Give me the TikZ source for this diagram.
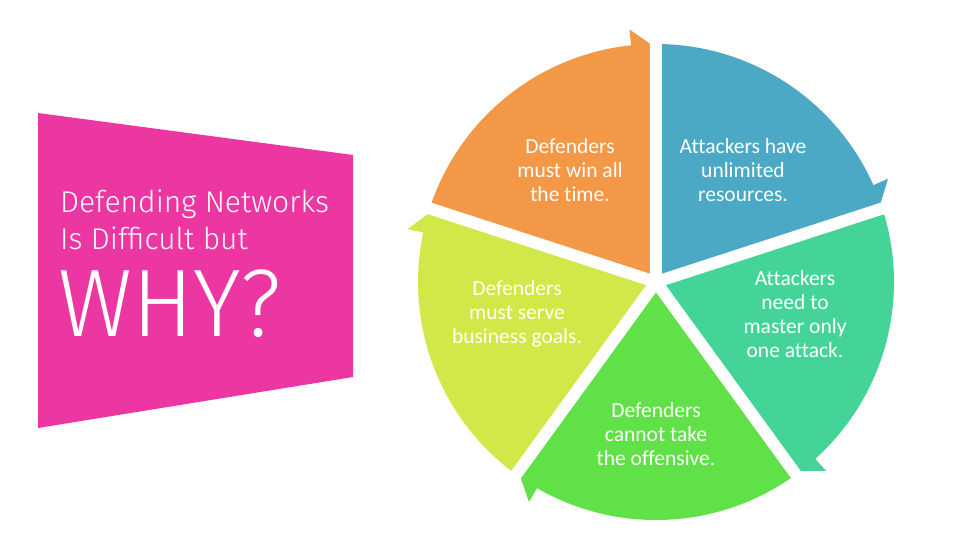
\documentclass[tikz,border=0pt]{standalone}
\usepackage{fontspec}
\setmainfont{Carlito}[Ligatures=NoCommon]
\newfontfamily\titlefont{Fira Sans Light}
\definecolor{cOrange}{RGB}{243,152,71}
\definecolor{cBlue}{RGB}{75,169,198}
\definecolor{cTeal}{RGB}{69,212,152}
\definecolor{cGreen}{RGB}{97,225,72}
\definecolor{cLime}{RGB}{210,232,72}
\definecolor{cPink}{RGB}{236,55,163}
\newcommand\R{238}
\newcommand\pieseg[2]{%
  \fill[#2] (0,0) -- (#1:\R) arc[start angle=#1, end angle=#1-66, radius=\R]
    -- (#1-66:\R+16) -- (#1-72:\R-4) -- cycle;}
\tikzset{
  segtext/.style={text=white, align=center, font=\fontsize{21.5}{24}\selectfont, inner sep=0pt},
  gapline/.style={white, line width=12pt},
  titletext/.style={text=white, anchor=base west, inner sep=0pt}
}
\begin{document}
\begin{tikzpicture}[x=1pt,y=1pt]
\useasboundingbox (0,0) rectangle (960,540);
\fill[white] (0,0) rectangle (960,540);
% pink banner
\fill[cPink] (38,427) -- (353,385) -- (353,163) -- (38,112) -- cycle;
\node[titletext, font=\titlefont\fontsize{30}{36}\selectfont] (t1) at (60,327) {Defending Networks};
\node[titletext, font=\titlefont\fontsize{30}{36}\selectfont] (t2) at (60,290) {Is Difficult but};
\node[titletext, font=\titlefont\fontsize{96}{100}\selectfont, xscale=0.95] (t3) at (58,203) {WHY?};
% pie
\begin{scope}[shift={(656,258)}]
  \pieseg{162}{cOrange}
  \pieseg{90}{cBlue}
  \pieseg{18}{cTeal}
  \pieseg{-54}{cGreen}
  \pieseg{-126}{cLime}
  \foreach \a in {90,18,-54,-126,162}
    \draw[gapline] (0,0) -- (\a:275);
\end{scope}
\node[segtext] (s1) at (570,370) {Defenders\\must win all\\the time.};
\node[segtext] (s2) at (743,370) {Attackers have\\unlimited\\resources.};
\node[segtext] (s3) at (795,226) {Attackers\\need to\\master only\\one attack.};
\node[segtext] (s4) at (656,106) {Defenders\\cannot take\\the offensive.};
\node[segtext] (s5) at (517,226) {Defenders\\must serve\\business goals.};
\end{tikzpicture}
\end{document}
